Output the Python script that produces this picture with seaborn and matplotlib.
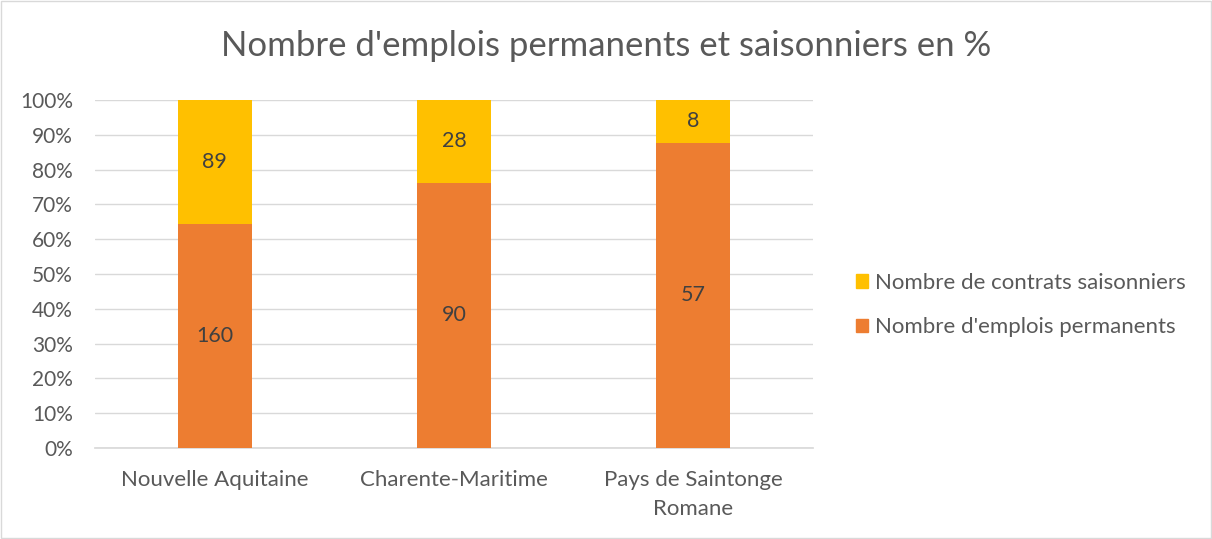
import matplotlib
matplotlib.use("Agg")
import matplotlib.pyplot as plt
import seaborn as sns
import pandas as pd
import numpy as np
from matplotlib.patches import Patch

categories = ["Nouvelle Aquitaine", "Charente-Maritime", "Pays de Saintonge\nRomane"]
permanents = [160, 90, 57]
saisonniers = [89, 28, 8]
series_names = ["Nombre d'emplois permanents", "Nombre de contrats saisonniers"]
yticks = [0, 10, 20, 30, 40, 50, 60, 70, 80, 90, 100]

sns.set_theme(style="white")
plt.rcParams['font.family'] = ['Lato', 'DejaVu Sans']

perm = np.array(permanents, dtype=float)
sais = np.array(saisonniers, dtype=float)
tot = perm + sais
perm_pct = perm / tot * 100
df = pd.DataFrame({"cat": categories, "perm": perm_pct, "total": 100.0})

fig = plt.figure(figsize=(12.12, 5.39), dpi=100)
ax = fig.add_axes([95/1212, 1 - 448/539, 718/1212, 348/539])

c_perm = "#ED7D31"
c_sais = "#FFC000"
txt = "#595959"

sns.barplot(data=df, x="cat", y="total", color=c_sais, width=0.31, ax=ax, zorder=3, saturation=1, linewidth=0)
sns.barplot(data=df, x="cat", y="perm", color=c_perm, width=0.31, ax=ax, zorder=3, saturation=1, linewidth=0)

for i in range(len(categories)):
    ax.text(i, perm_pct[i] / 2, f"{permanents[i]}", ha="center", va="center", fontsize=15.5, color="#404040", zorder=5)
    ax.text(i, perm_pct[i] + (100 - perm_pct[i]) / 2, f"{saisonniers[i]}", ha="center", va="center", fontsize=15.5, color="#404040", zorder=5)

ax.set_ylim(0, 100)
ax.set_xlim(-0.5, 2.5)
ax.set_yticks(yticks)
ax.set_yticklabels([f"{v}%" for v in yticks])
ax.yaxis.grid(True, color="#D9D9D9", linewidth=1, zorder=0)
ax.set_axisbelow(True)
for s in ["top", "right", "left"]:
    ax.spines[s].set_visible(False)
ax.spines["bottom"].set_color("#D9D9D9")
ax.tick_params(axis="both", colors=txt, length=0)
ax.tick_params(axis="y", pad=16, labelsize=15)
ax.tick_params(axis="x", pad=16, labelsize=16)
for lab in ax.get_xticklabels():
    lab.set_linespacing(1.55)
ax.set_xlabel("")
ax.set_ylabel("")

fig.text(0.5, 1 - 46/539, "Nombre d'emplois permanents et saisonniers en %", ha="center", va="center", fontsize=25, color=txt)

handles = [Patch(color=c_sais), Patch(color=c_perm)]
fig.legend(handles, [series_names[1], series_names[0]], loc="center left",
           bbox_to_anchor=(836/1212, 1 - 305/539), frameon=False, fontsize=16,
           labelcolor=txt, handlelength=0.55, handleheight=0.55, handletextpad=0.3, labelspacing=1.1)

border = plt.Rectangle((0.001, 0.001), 0.998, 0.998, transform=fig.transFigure, fill=False, edgecolor="#D9D9D9", linewidth=1)
fig.patches.append(border)

fig.savefig("out.png", dpi=100, facecolor="white")
